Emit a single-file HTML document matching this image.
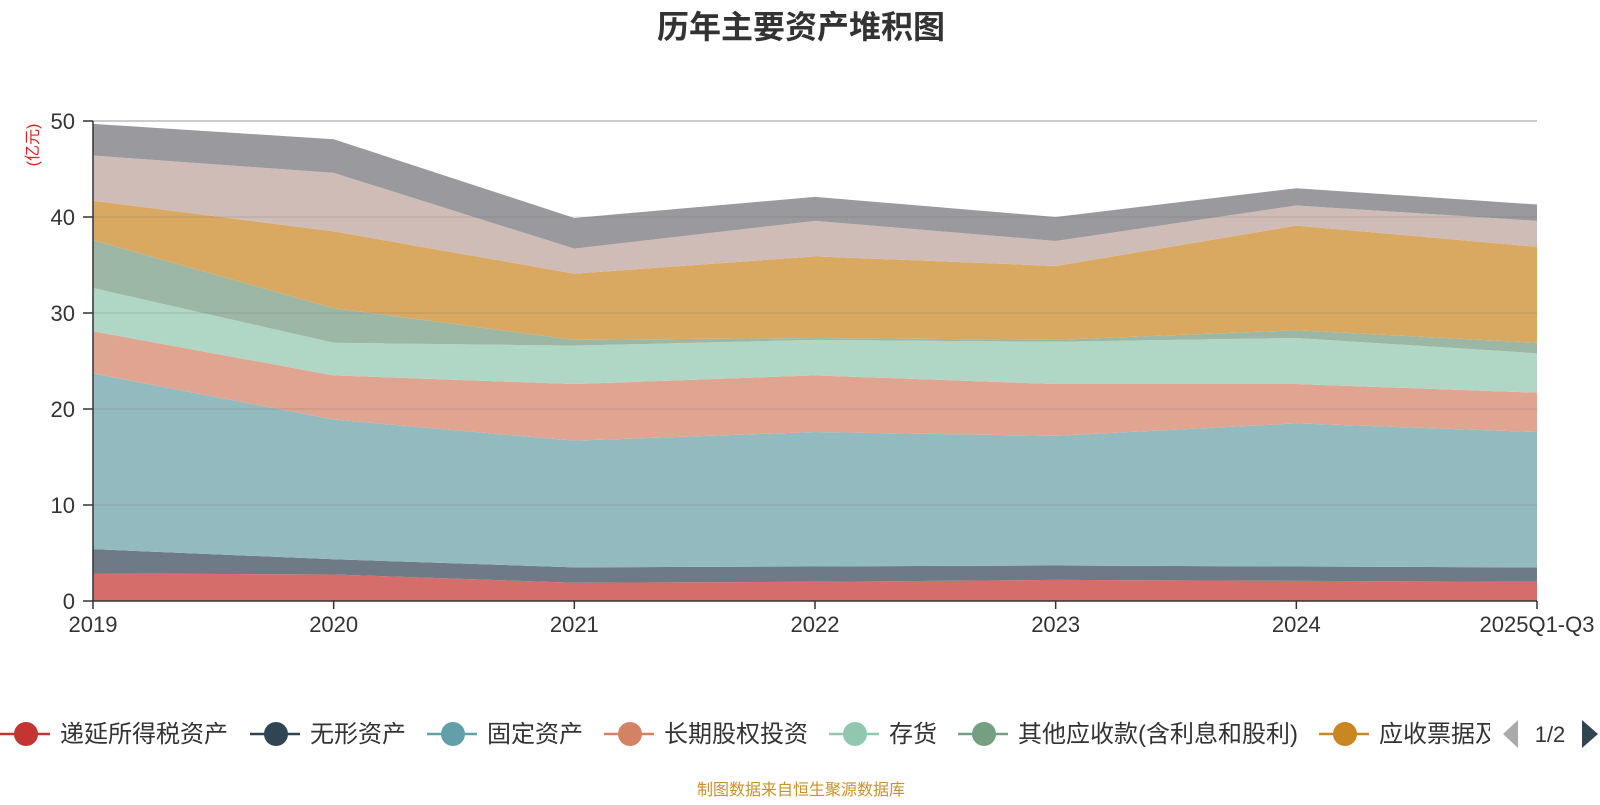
<!DOCTYPE html>
<html><head><meta charset="utf-8"><style>
body{margin:0;background:#fff;}
svg text{font-family:"Liberation Sans","Noto Sans CJK SC",sans-serif;}
</style></head><body>
<svg id="c" width="1600" height="800">
<defs><clipPath id="lgclip"><rect x="0" y="700" width="1490" height="70"/></clipPath></defs>
<text x="801" y="38" text-anchor="middle" font-size="32" font-weight="bold" fill="#333">历年主要资产堆积图</text>
<text transform="translate(38,145) rotate(-90)" text-anchor="middle" font-size="16" fill="#e02020">(亿元)</text>
<g id="areas"></g><g id="grid"></g><g id="axes"></g><g id="legend" clip-path="url(#lgclip)"></g><g id="pager"></g>
<text x="801" y="795" text-anchor="middle" font-size="16" fill="#c8912a">制图数据来自恒生聚源数据库</text>
</svg>
<script>
const categories=["2019","2020","2021","2022","2023","2024","2025Q1-Q3"];
const seriesNames=["递延所得税资产","无形资产","固定资产","长期股权投资","存货","其他应收款(含利息和股利)","应收票据及应收账款","货币资金","其他"];
const sDeferred=[2.87,2.76,1.9,2.0,2.2,2.1,2.0];
const sIntangible=[2.53,1.59,1.6,1.6,1.5,1.5,1.5];
const sFixed=[18.3,14.55,13.2,14.0,13.5,14.9,14.1];
const sLongEquity=[4.4,4.6,5.9,5.9,5.4,4.1,4.1];
const sInventory=[4.5,3.4,4.0,3.7,4.4,4.8,4.1];
const sOtherRecv=[5.0,3.6,0.6,0.2,0.2,0.8,1.1];
const sNotesRecv=[4.1,8.0,6.9,8.5,7.7,10.9,10.0];
const sCash=[4.7,6.1,2.6,3.7,2.6,2.1,2.7];
const sOther=[3.3,3.5,3.2,2.5,2.5,1.8,1.7];
const yTicks=[0,10,20,30,40,50];
const series=[sDeferred,sIntangible,sFixed,sLongEquity,sInventory,sOtherRecv,sNotesRecv,sCash,sOther];
const fills=["#d56d6a","#6e7b87","#93babf","#e0a591","#b0d7c5","#9cb8a4","#d9a962","#d0bcb6","#9a9a9e"];
const legendColors=["#c23531","#2f4554","#61a0a8","#d48265","#91c7ae","#749f83","#ca8622"];
const NS="http://www.w3.org/2000/svg";
const x0=93,x1=1537,yb=601,yt=121;
const xs=i=>x0+(x1-x0)*i/(categories.length-1);
const ys=v=>yb-(yb-yt)*v/50;
function mk(t,a,p){const e=document.createElementNS(NS,t);for(const k in a)e.setAttribute(k,a[k]);p.appendChild(e);return e;}
const areas=document.getElementById('areas');
let base=categories.map(()=>0);
series.forEach((s,si)=>{
  const top=base.map((b,i)=>b+s[i]);
  let d=top.map((v,i)=>(i?'L':'M')+xs(i)+','+ys(v)).join('');
  for(let i=categories.length-1;i>=0;i--)d+='L'+xs(i)+','+ys(base[i]);
  const p=mk('path',{d:d+'Z',fill:fills[si]},areas);
  
  
  base=top;
});
const grid=document.getElementById('grid');
yTicks.forEach(t=>{
  if(t>0){const l=mk('line',{x1:x0,x2:x1,y1:ys(t),y2:ys(t),stroke:t==50?'#ccc':'rgba(100,100,100,0.25)','stroke-width':t==50?2:1},grid);
  
  }
  mk('line',{x1:x0-10,x2:x0,y1:ys(t),y2:ys(t),stroke:'#333','stroke-width':1.5},grid);
  const tx=mk('text',{x:75,y:ys(t)+8,'text-anchor':'end','font-size':22,fill:'#333'},grid);
  tx.textContent=t;
  
  
});
const axes=document.getElementById('axes');
mk('line',{x1:x0,x2:x1,y1:yb,y2:yb,stroke:'#333','stroke-width':1.5},axes);
mk('line',{x1:x0,x2:x0,y1:yt,y2:yb,stroke:'#333','stroke-width':1.5},axes);
categories.forEach((c,i)=>{
  mk('line',{x1:xs(i),x2:xs(i),y1:yb,y2:yb+8,stroke:'#333','stroke-width':1.5},axes);
  const t=mk('text',{x:xs(i),y:632,'text-anchor':'middle','font-size':22,fill:'#333'},axes);
  t.textContent=c;
  
  
});
const lg=document.getElementById('legend');
const lx=[0,250,427,604,829,958,1319];
lx.forEach((x,i)=>{
  const g=mk('g',{},lg);
  
  
  mk('line',{x1:x,x2:x+50,y1:734,y2:734,stroke:legendColors[i],'stroke-width':2.5},g);
  mk('circle',{cx:x+26,cy:734,r:12,fill:legendColors[i]},g);
  const t=mk('text',{x:x+60,y:742,'font-size':24,fill:'#333'},g);
  t.textContent=seriesNames[i];
});
const pg=document.getElementById('pager');
const pl=mk('path',{d:'M1518,720L1503,734L1518,748Z',fill:'#aaa'},pg);


const pt=mk('text',{x:1550,y:742,'text-anchor':'middle','font-size':22,fill:'#333'},pg);pt.textContent='1/2';


const pn=mk('path',{d:'M1582,720L1598,734L1582,748Z',fill:'#2f4554'},pg);


</script>
</body></html>
